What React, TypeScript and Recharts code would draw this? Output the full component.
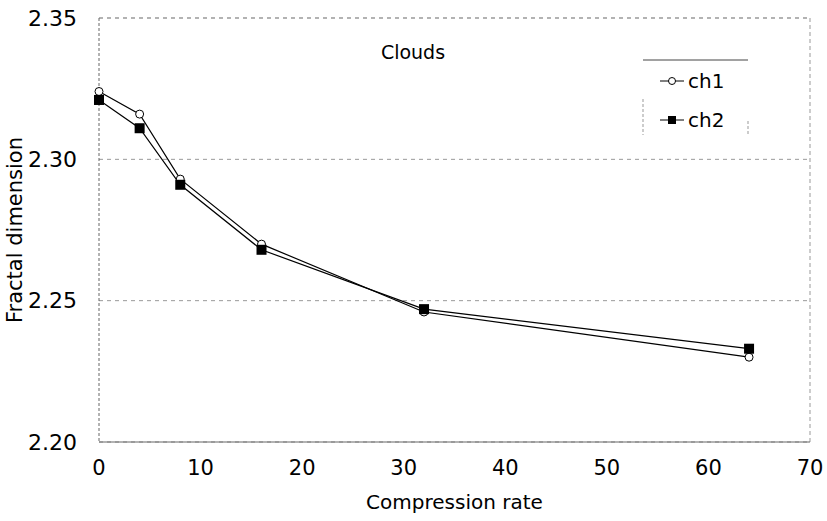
import React from "react";
import {
  LineChart,
  Line,
  XAxis,
  YAxis,
  CartesianGrid,
  ReferenceLine,
} from "recharts";

const rates = [0, 4, 8, 16, 32, 64];
const ch1 = [2.324, 2.316, 2.293, 2.27, 2.246, 2.23];
const ch2 = [2.321, 2.311, 2.291, 2.268, 2.247, 2.233];
const xTicks = [0, 10, 20, 30, 40, 50, 60, 70];
const yTicks = [2.2, 2.25, 2.3, 2.35];

const data = rates.map((r, i) => ({ rate: r, ch1: ch1[i], ch2: ch2[i] }));

const font = "'DejaVu Sans', sans-serif";

const OpenDot = (props: any) => {
  const { cx, cy } = props;
  return <circle cx={cx} cy={cy} r={4} fill="#fff" stroke="#000" strokeWidth={1} />;
};

const SquareDot = (props: any) => {
  const { cx, cy } = props;
  return <rect x={cx - 5} y={cy - 5} width={10} height={10} fill="#000" />;
};

// legend box drawn inside the chart, top right
const LegendBox = ({ x, y }: { x: number; y: number }) => (
  <g transform={`translate(${x},${y})`}>
    <line x1={3} y1={1} x2={108} y2={1} stroke="#444" strokeWidth={1} />
    <line x1={3} y1={40} x2={3} y2={76} stroke="#999" strokeDasharray="3 2" />
    <line x1={108} y1={62} x2={108} y2={76} stroke="#999" strokeDasharray="3 2" />
    <line x1={20} y1={22} x2={44} y2={22} stroke="#000" />
    <circle cx={32} cy={22} r={3.5} fill="#fff" stroke="#000" />
    <text x={48} y={29} fontSize={20} fontFamily={font}>ch1</text>
    <line x1={20} y1={61} x2={44} y2={61} stroke="#000" />
    <rect x={28} y={57} width={8} height={8} fill="#000" />
    <text x={48} y={68} fontSize={20} fontFamily={font}>ch2</text>
  </g>
);

export default function App() {
  return (
    <div style={{ position: "absolute", left: 0, top: 0, background: "#fff" }}>
      <LineChart
        width={827}
        height={521}
        data={data}
        margin={{ top: 18, right: 17, left: 0, bottom: 0 }}
      >
        <CartesianGrid
          vertical={false}
          stroke="#999"
          strokeDasharray="4 4"
        />
        <XAxis
          dataKey="rate"
          type="number"
          domain={[0, 70]}
          ticks={xTicks}
          tickLine={false}
          axisLine={{ stroke: "#666" }}
          tick={{ fill: "#000", fontSize: 21, fontFamily: font }}
          tickMargin={12}
          height={79}
          label={{
            value: "Compression rate",
            position: "insideBottom",
            offset: 12,
            fill: "#000",
            fontSize: 20,
            fontFamily: font,
          }}
        />
        <YAxis
          type="number"
          domain={[2.2, 2.35]}
          ticks={yTicks}
          tickFormatter={(v: number) => v.toFixed(2)}
          tickLine={false}
          axisLine={{ stroke: "#666", strokeDasharray: "3 2" }}
          tick={{ fill: "#000", fontSize: 22, fontFamily: font }}
          tickMargin={16}
          width={99}
          label={{
            value: "Fractal dimension",
            angle: -90,
            position: "insideLeft",
            offset: 15,
            style: { textAnchor: "middle" },
            fill: "#000",
            fontSize: 21,
            fontFamily: font,
          }}
        />
        <ReferenceLine x={70} stroke="#999" strokeDasharray="4 3" />
        <ReferenceLine y={2.35} stroke="#999" strokeDasharray="4 4" />
        <text x={413} y={59} textAnchor="middle" fontSize={19} fontFamily={font}>
          Clouds
        </text>
        <LegendBox x={640} y={59} />
        <Line
          dataKey="ch1"
          stroke="#000"
          strokeWidth={1.2}
          dot={<OpenDot />}
          isAnimationActive={false}
        />
        <Line
          dataKey="ch2"
          stroke="#000"
          strokeWidth={1.2}
          dot={<SquareDot />}
          isAnimationActive={false}
        />
      </LineChart>
    </div>
  );
}
